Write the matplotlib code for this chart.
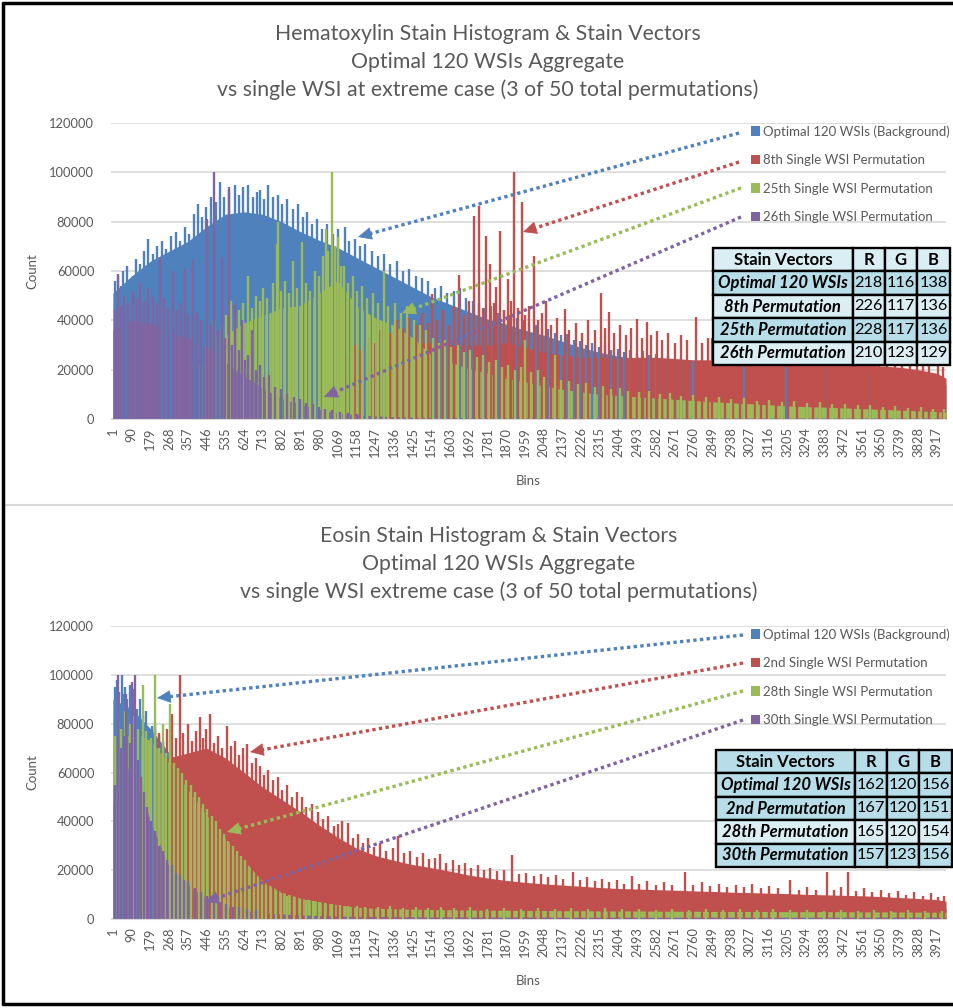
import numpy as np
import matplotlib.pyplot as plt
from matplotlib.patches import Patch

plt.rcParams['font.family'] = ['Lato', 'DejaVu Sans']

BLUE, RED, GREEN, PURPLE = '#4f81bd', '#c0504d', '#9bbb59', '#8064a2'
GREY = '#595959'

# x categories (bin numbers), labelled every 89 bins
tick_bins = list(range(1, 3918, 89))
bins = tick_bins + [3960]

# ---- Hematoxylin histogram: dense body level read at each labelled bin
h_blue = [51000, 58000, 64000, 68000, 72000, 78000, 83000, 84000, 83000, 80000,
          76000, 72500, 69500, 65500, 61500, 57500, 53500, 49500, 46500, 43500,
          40500, 38500, 36000, 34000, 31500, 29000, 27000, 25500, 24500, 23500,
          22300, 21000, 20500, 20000, 19500, 19000, 18500, 18000, 17500, 17000,
          16500, 16000, 15500, 15000, 14500, 14000]
h_red = [0, 0, 0, 0, 0, 0, 0, 0, 0, 0,
         2000, 8000, 15000, 21000, 27000, 30000, 31000, 31000, 30000, 30000,
         30000, 31000, 29000, 27000, 26000, 25000, 25000, 24500, 25000, 25000,
         24500, 24000, 24000, 23500, 23500, 23000, 23000, 22500, 22500, 22000,
         22000, 21500, 21000, 20000, 18500, 16500]
h_green = [0, 0, 0, 2000, 9000, 23000, 34000, 39000, 42000, 45000,
           46000, 51000, 56000, 46000, 41000, 38000, 33000, 26000, 23000, 20500,
           18500, 16500, 15000, 13500, 12000, 11000, 10000, 9500, 9000, 8500,
           8000, 7500, 7000, 6600, 6200, 5800, 5300, 5000, 4800, 4500,
           4200, 3900, 3600, 3300, 3000, 2700]
h_purple = [36000, 40000, 39000, 35000, 33000, 29000, 23000, 17500, 12500, 8300,
            6000, 3800, 2400, 1700, 1250, 950, 780, 680, 620, 570,
            520, 500, 470, 450, 430, 420, 410, 400, 400, 400,
            400, 400, 400, 400, 400, 400, 400, 400, 400, 400,
            400, 400, 400, 400, 400, 400]

# single-bin spikes above the body (bin, count)
h_blue_spikes = [
    (10, 56000), (25, 58000), (40, 54000), (49, 60000), (70, 62000), (95, 58000),
    (110, 65000), (130, 63000), (150, 68000), (168, 73000), (190, 67000), (210, 70000),
    (235, 72000), (255, 69000), (275, 74000), (300, 76000), (320, 72000), (345, 78000),
    (365, 75000), (386, 83000), (405, 87000), (425, 82000), (445, 86000), (465, 90000),
    (490, 88000), (510, 96000), (530, 90000), (555, 93000), (580, 95000), (600, 91000),
    (620, 94000), (642, 95000), (665, 90000), (685, 92000), (700, 93000), (720, 89000),
    (738, 95000), (760, 90000), (785, 91000), (805, 87000), (830, 89000), (855, 85000),
    (880, 87000), (905, 82000), (925, 84000), (947, 79000), (970, 81000), (995, 77000),
    (1020, 79000), (1045, 75000), (1070, 77000), (1104, 77700), (1125, 72000),
    (1152, 73000), (1175, 70000), (1200, 71000), (1232, 68000), (1260, 66000),
    (1290, 67000), (1320, 63000), (1350, 64000), (1380, 60000), (1410, 61000),
    (1440, 58000), (1470, 57000), (1500, 56000), (1530, 53000), (1560, 54000),
    (1590, 51000), (1620, 52000), (1650, 53000), (1680, 49000), (1710, 48000),
    (1740, 47000), (1770, 45000), (1800, 46000), (1830, 43000), (1860, 44000),
    (1890, 42000), (1920, 41000), (1950, 40000), (1980, 39000), (2010, 38000),
    (2040, 37000), (2070, 36500), (2100, 35000), (2130, 34000), (2160, 34500),
    (2190, 32000), (2220, 31500), (2250, 30000), (2280, 31000), (2310, 29000),
    (2340, 30000), (2370, 28000), (2400, 28500), (2430, 27000), (2460, 28000),
    (2490, 26500), (2520, 27500), (2550, 26000), (2580, 26500), (2610, 25000),
    (2640, 25500), (2670, 24000), (2700, 24500), (2730, 23000), (2760, 23500),
    (3000, 22000), (3200, 21000), (3400, 20500), (3600, 19500)]
h_red_spikes = [
    (1120, 26000), (1150, 30000), (1180, 28000), (1210, 33000), (1240, 31000),
    (1265, 36000), (1290, 38000), (1320, 35000), (1350, 40000), (1380, 37000),
    (1410, 41000), (1440, 38000), (1470, 43000), (1500, 39000), (1516, 50700),
    (1540, 40000), (1570, 44000), (1600, 38000), (1620, 46000), (1647, 58400),
    (1670, 42000), (1695, 48000), (1717, 82400), (1742, 86500), (1760, 45000),
    (1774, 74300), (1793, 62800), (1810, 47000), (1821, 53400), (1840, 76300),
    (1860, 44000), (1878, 56700), (1895, 48000), (1908, 100000), (1925, 45000),
    (1943, 87800), (1960, 42000), (1980, 46000), (2002, 66200), (2020, 40000),
    (2040, 43000), (2060, 48000), (2085, 38000), (2110, 41000), (2149, 44600),
    (2170, 36000), (2200, 39000), (2230, 35000), (2260, 40000), (2290, 36000),
    (2320, 51000), (2340, 37000), (2358, 43200), (2380, 35000), (2410, 38000),
    (2440, 34000), (2465, 37000), (2490, 40500), (2515, 33000), (2537, 39200),
    (2560, 34000), (2585, 35800), (2610, 32000), (2640, 35000), (2670, 31000),
    (2700, 34000), (2730, 32000), (2770, 41200), (2800, 31000), (2830, 33000),
    (2850, 33000), (2880, 30000), (2910, 32000), (2950, 36000), (2980, 30000),
    (3010, 31000), (3050, 32000), (3080, 29000), (3110, 31000), (3150, 35000),
    (3180, 29000), (3210, 30000), (3250, 28000), (3300, 34000), (3330, 28000),
    (3360, 29000), (3400, 27000), (3450, 31000), (3480, 27000), (3520, 28000),
    (3560, 26000), (3600, 33000), (3640, 26000), (3680, 27000), (3720, 25000),
    (3750, 30000), (3790, 24000), (3820, 25000), (3850, 28000), (3880, 22000),
    (3920, 26000), (3945, 21000)]
h_green_spikes = [
    (420, 22000), (450, 30000), (480, 40000), (500, 34000), (520, 38000), (540, 42000),
    (560, 48000), (580, 41000), (600, 44000), (620, 47000), (643, 58000), (660, 45000),
    (680, 50000), (700, 48000), (714, 53000), (735, 49000), (760, 55000), (780, 71000),
    (785, 80000), (800, 52000), (820, 56000), (840, 51000), (857, 64000), (875, 53000),
    (900, 71600), (920, 55000), (940, 52000), (960, 60000), (980, 58000), (1000, 66000),
    (1013, 77000), (1025, 68000), (1043, 100000), (1055, 70000), (1070, 73600),
    (1085, 62000), (1100, 62000), (1120, 55000), (1140, 58000), (1160, 52000),
    (1185, 54000), (1210, 49000), (1235, 51000), (1260, 47000), (1290, 60000),
    (1310, 46000), (1340, 47000), (1370, 43000), (1400, 46000), (1430, 40000),
    (1460, 38000), (1490, 36000), (1520, 33000), (1550, 31000), (1580, 32000),
    (1610, 29000), (1640, 30000), (1670, 27000), (1700, 28000), (1730, 25000),
    (1760, 26000), (1790, 23000), (1820, 24000), (1850, 21000), (1880, 22000),
    (1910, 20000), (1940, 21000), (1960, 32000), (1990, 19000), (2020, 20000),
    (2050, 17000), (2100, 26000), (2130, 16000), (2170, 15500), (2210, 14000),
    (2250, 14500), (2290, 13000), (2330, 13500), (2370, 12000), (2410, 12500),
    (2450, 11500), (2500, 11000), (2550, 11500), (2600, 10000), (2650, 10500),
    (2700, 9500), (2760, 9800), (2820, 8800), (2880, 9000), (2940, 8200),
    (3000, 8500), (3060, 7500), (3120, 7800), (3180, 7000), (3240, 7200),
    (3300, 6500), (3360, 6800), (3420, 6000), (3480, 6200), (3540, 5600),
    (3600, 5800), (3660, 5000), (3720, 5300), (3780, 4600), (3840, 4800),
    (3900, 4200), (3950, 4000)]
h_purple_spikes = [
    (10, 44000), (25, 58800), (40, 46000), (55, 50000), (75, 47000), (95, 52000),
    (115, 49000), (130, 55000), (150, 48000), (170, 53000), (190, 50000), (210, 47000),
    (225, 65500), (245, 49000), (265, 45000), (287, 60000), (305, 44000), (325, 47000),
    (343, 61000), (360, 42000), (382, 65000), (400, 43000), (420, 40000), (449, 81000),
    (465, 38000), (481, 100000), (500, 36000), (519, 65500), (535, 33000), (553, 94000),
    (565, 30000), (581, 46600), (600, 28000), (614, 40000), (630, 24000), (645, 26000),
    (662, 36000), (680, 20000), (700, 22000), (720, 17000), (745, 18000), (770, 13000),
    (800, 12000), (830, 10000), (860, 9000), (890, 8000), (920, 6500), (950, 6000),
    (980, 5000), (1010, 4200), (1040, 3500), (1080, 3000), (1120, 2400), (1160, 2200)]

# ---- Eosin histogram
e_blue = [90000, 86000, 78000, 68000, 61000, 54000, 47500, 41500, 35500, 30500,
          26500, 23000, 20000, 18000, 16000, 14500, 13200, 12200, 11200, 10200,
          9500, 9000, 8500, 8000, 7600, 7200, 7000, 6800, 6600, 6400,
          6200, 6000, 5800, 5600, 5500, 5400, 5300, 5200, 5100, 5000,
          4900, 4800, 4700, 4600, 4500, 4400]
e_red = [54000, 60000, 64000, 66000, 68000, 70000, 66000, 60000, 54000, 49000,
         44000, 38500, 33500, 29000, 26000, 24000, 22300, 21000, 19600, 18000,
         16800, 15800, 15000, 14400, 13900, 13400, 12900, 12500, 12300, 12000,
         11800, 11500, 11300, 11000, 10800, 10600, 10400, 10100, 9900, 9700,
         9500, 9200, 8800, 8400, 7900, 7300]
e_green = [68000, 77000, 73000, 64000, 53000, 42500, 33000, 24000, 15500, 11000,
           8600, 7200, 5800, 4800, 4400, 4200, 4000, 3900, 3800, 3700,
           3600, 3600, 3500, 3500, 3400, 3400, 3300, 3300, 3300, 3200,
           3200, 3200, 3100, 3100, 3100, 3100, 3000, 3000, 3000, 3000,
           2900, 2900, 2900, 2800, 2800, 2700]
e_purple = [48000, 65000, 40000, 21500, 14000, 8500, 5300, 3600, 2600, 2100,
            1700, 1400, 1200, 1050, 1000, 950, 900, 850, 850, 800,
            800, 800, 800, 800, 750, 750, 750, 750, 750, 750,
            750, 750, 750, 750, 750, 750, 750, 750, 750, 750,
            750, 750, 750, 750, 750, 750]

e_blue_spikes = [
    (10, 95000), (20, 98000), (30, 93000), (43, 100000), (50, 92000), (60, 95000),
    (70, 90000), (80, 96000), (90, 89000), (100, 94000), (115, 86000), (130, 90000),
    (145, 83000), (160, 85000), (186, 79000), (200, 78000), (220, 75000), (240, 73000)]
e_red_spikes = [
    (200, 80000), (220, 76000), (240, 72000), (260, 78000), (281, 84000), (300, 74000),
    (319, 100000), (335, 76000), (357, 80000), (375, 73000), (395, 77000), (414, 82600),
    (430, 74000), (445, 78000), (461, 84000), (480, 72000), (500, 75000), (520, 70000),
    (543, 79000), (560, 71000), (580, 73000), (600, 67000), (620, 70000), (638, 71700),
    (660, 64000), (680, 66000), (700, 62800), (720, 59000), (740, 61000), (760, 57000),
    (785, 58000), (805, 53000), (830, 55000), (850, 50000), (875, 52000), (900, 50000),
    (920, 46000), (945, 47000), (975, 44000), (1000, 41000), (1025, 42000),
    (1050, 38000), (1070, 39000), (1090, 40300), (1118, 39300), (1140, 33000),
    (1165, 35000), (1190, 31000), (1215, 33000), (1240, 29500), (1270, 31000),
    (1300, 28000), (1330, 29000), (1356, 34000), (1385, 27000), (1415, 28000),
    (1445, 25500), (1475, 27000), (1505, 24500), (1530, 25000), (1555, 26600),
    (1585, 23000), (1615, 24000), (1645, 22000), (1675, 23000), (1705, 21000),
    (1735, 22000), (1765, 20000), (1795, 21000), (1825, 19500), (1860, 20000),
    (1897, 26200), (1930, 18500), (1965, 19000), (2000, 17500), (2035, 18500),
    (2070, 17000), (2105, 18000), (2140, 16500), (2187, 19100), (2220, 16000),
    (2255, 17000), (2290, 15500), (2325, 16500), (2360, 15000), (2395, 16000),
    (2430, 14500), (2468, 17800), (2500, 14500), (2540, 15500), (2580, 14000),
    (2620, 15000), (2660, 14000), (2720, 19300), (2760, 14000), (2800, 15000),
    (2840, 13500), (2880, 14500), (2920, 13000), (2960, 14000), (3000, 13000),
    (3040, 14500), (3080, 12500), (3120, 13500), (3160, 12500), (3218, 16000),
    (3260, 12000), (3300, 13000), (3340, 12000), (3395, 19300), (3430, 12000),
    (3460, 13000), (3495, 19300), (3530, 11500), (3570, 12500), (3610, 11000),
    (3650, 12000), (3690, 10500), (3730, 11500), (3770, 10000), (3810, 11000),
    (3850, 9500), (3890, 10500), (3920, 9000), (3950, 9500)]
e_green_spikes = [
    (10, 75000), (25, 82000), (40, 78000), (60, 85000), (80, 80000), (100, 83000),
    (120, 78000), (143, 96000), (160, 77000), (180, 74000), (200, 100000), (220, 70000),
    (240, 80000), (255, 68000), (272, 88000), (290, 64000), (310, 62000), (330, 60000),
    (350, 57000), (370, 55000), (390, 52000), (410, 50000), (430, 47000), (450, 45000),
    (470, 42000), (490, 40000), (510, 37000), (530, 35000), (550, 32000), (570, 30000),
    (590, 28000), (610, 26000), (630, 24000), (650, 21000), (670, 19000), (690, 17000),
    (710, 15000), (730, 14000), (750, 12500), (775, 11500), (800, 10500), (830, 9500),
    (860, 9000), (890, 8200), (920, 7800), (950, 7200), (980, 6800), (1010, 6300),
    (1040, 6000), (1080, 5600), (1120, 5400), (1160, 5200), (1200, 5000), (1260, 4800),
    (1320, 5200), (1380, 4600), (1440, 5000), (1500, 4500), (1560, 4900), (1620, 4400),
    (1700, 4800), (1780, 4300), (1860, 4700), (1940, 4200), (2020, 4600), (2100, 4100),
    (2180, 4500), (2260, 4000), (2340, 4400), (2420, 3900), (2500, 4300), (2580, 3800),
    (2660, 4200), (2740, 3700), (2820, 4100), (2900, 3600), (2980, 4000), (3060, 3600),
    (3140, 3900), (3220, 3500), (3300, 3800), (3380, 3400), (3460, 3700), (3540, 3300),
    (3620, 3600), (3700, 3300), (3780, 3500), (3860, 3200), (3940, 3400)]
e_purple_spikes = [
    (10, 55000), (25, 100000), (40, 70000), (55, 75000), (65, 92000), (80, 72000),
    (92, 97000), (105, 100000), (120, 65000), (135, 58000), (150, 52000), (165, 46000),
    (180, 40000), (200, 36000), (220, 30000), (240, 28000), (260, 24000), (280, 22000),
    (300, 19000), (320, 18000), (340, 16000), (360, 15000), (390, 12500), (420, 11000),
    (450, 9500), (480, 8000), (510, 7000), (540, 6000), (570, 5000), (600, 4800),
    (640, 4000), (680, 3500)]

# ---- stain vector tables
table_cols = ['Stain Vectors', 'R', 'G', 'B']
h_rows = ['Optimal 120 WSIs', '8th Permutation', '25th Permutation', '26th Permutation']
h_rgb = [[218, 116, 138], [226, 117, 136], [228, 117, 136], [210, 123, 129]]
e_rows = ['Optimal 120 WSIs', '2nd Permutation', '28th Permutation', '30th Permutation']
e_rgb = [[162, 120, 156], [167, 120, 151], [165, 120, 154], [157, 123, 156]]

h_labels = ['Optimal 120 WSIs (Background)', '8th Single WSI Permutation',
            '25th Single WSI Permutation', '26th Single WSI Permutation']
e_labels = ['Optimal 120 WSIs (Background)', '2nd Single WSI Permutation',
            '28th Single WSI Permutation', '30th Single WSI Permutation']

colors = [BLUE, RED, GREEN, PURPLE]

fig = plt.figure(figsize=(9.54, 10.08), dpi=100)
W, H = 954, 1008
ax_h = fig.add_axes([111 / W, 1 - 419 / H, 835 / W, 296 / H])
ax_e = fig.add_axes([111 / W, 1 - 919 / H, 835 / W, 293 / H])


def draw_hist(ax, series, spikes):
    for vals, spk, c in zip(series, spikes, colors):
        ax.fill_between(bins, vals, color=c, lw=0)
        sb = [s[0] for s in spk]
        sv = [s[1] for s in spk]
        ax.vlines(sb, 0, sv, color=c, lw=1.7)
    ax.set_xlim(-8, 3960)
    ax.set_ylim(0, 120000)
    ax.set_yticks(range(0, 120001, 20000))
    ax.set_xticks(tick_bins)
    ax.set_xticklabels([str(b) for b in tick_bins], rotation=90)
    ax.tick_params(length=0, labelsize=9.3, labelcolor=GREY)
    ax.tick_params(axis='y', pad=12)
    ax.tick_params(axis='x', pad=6)
    ax.yaxis.grid(True, color='#d9d9d9', lw=1.2)
    ax.set_axisbelow(True)
    for s in ['top', 'left', 'right']:
        ax.spines[s].set_visible(False)
    ax.spines['bottom'].set_color('#d9d9d9')
    ax.set_ylabel('Count', fontsize=9.5, color=GREY)
    ax.set_xlabel('Bins', fontsize=9.5, color=GREY)
    ax.yaxis.set_label_coords(-0.087, 0.5)
    ax.xaxis.set_label_coords(0.5, -0.19)


draw_hist(ax_h, [h_blue, h_red, h_green, h_purple],
          [h_blue_spikes, h_red_spikes, h_green_spikes, h_purple_spikes])
draw_hist(ax_e, [e_blue, e_red, e_green, e_purple],
          [e_blue_spikes, e_red_spikes, e_green_spikes, e_purple_spikes])

# overlay in pixel coordinates for titles, arrows, tables and frame
ov = fig.add_axes([0, 0, 1, 1], zorder=5)
ov.set_xlim(0, W)
ov.set_ylim(H, 0)
ov.axis('off')

ov.text(488, 62, 'Hematoxylin Stain Histogram & Stain Vectors\nOptimal 120 WSIs Aggregate\n'
        'vs single WSI at extreme case (3 of 50 total permutations)',
        ha='center', va='center', fontsize=15.3, color=GREY, linespacing=1.5)
ov.text(499, 564, 'Eosin Stain Histogram & Stain Vectors\nOptimal 120 WSIs Aggregate\n'
        'vs single WSI extreme case (3 of 50 total permutations)',
        ha='center', va='center', fontsize=15.3, color=GREY, linespacing=1.5)

handles = [Patch(facecolor=c) for c in colors]
for lab, y0 in [(h_labels, 125), (e_labels, 628)]:
    fig.legend(handles, lab, loc='upper left', bbox_to_anchor=(751 / W, 1 - y0 / H),
               frameon=False, fontsize=9.5, labelcolor=GREY, borderpad=0,
               borderaxespad=0, handlelength=0.7, handleheight=0.7,
               handletextpad=0.2, labelspacing=1.25)

# dotted pointer arrows: (legend end) -> (arrow tip)
h_arrows = [((739, 133), (358, 237)), ((739, 162), (523, 232)),
            ((741, 188), (402, 313)), ((741, 217), (324, 397))]
e_arrows = [((743, 635), (157, 698)), ((743, 663), (250, 752)),
            ((743, 691), (227, 832)), ((743, 720), (205, 902))]
for arrows in [h_arrows, e_arrows]:
    for (p0, p1), c in zip(arrows, colors):
        d = np.array(p0, float) - np.array(p1, float)
        u = d / np.hypot(*d)
        base = np.array(p1) + 11 * u
        ov.plot([p0[0], base[0]], [p0[1], base[1]], color=c, lw=2.4,
                linestyle=(0, (1, 1)), solid_capstyle='butt')
        ov.annotate('', xy=p1, xytext=base + 2 * u,
                    arrowprops=dict(arrowstyle='-|>,head_length=0.9,head_width=0.42',
                                    color=c, lw=0.5, mutation_scale=10,
                                    shrinkA=0, shrinkB=0))


def draw_table(rows, rgb, box, fills):
    x0, y0, w, h = box
    cells = [[r] + [str(v) for v in vals] for r, vals in zip(rows, rgb)]
    tb = ov.table(cellText=cells, colLabels=table_cols, cellLoc='center',
                  bbox=[x0 / W, 1 - (y0 + h) / H, w / W, h / H],
                  colWidths=[0.59, 0.135, 0.135, 0.14])
    tb.auto_set_font_size(False)
    for (r, c), cell in tb.get_celld().items():
        cell.set_edgecolor('black')
        cell.set_linewidth(1.7)
        cell.set_facecolor(fills[r])
        txt = cell.get_text()
        txt.set_color('black')
        if r == 0:
            txt.set_fontsize(12)
            txt.set_fontweight('bold')
        elif c == 0:
            txt.set_fontsize(12)
            txt.set_fontweight('bold')
            txt.set_fontstyle('italic')
        else:
            txt.set_fontsize(11.8)


draw_table(h_rows, h_rgb, (713, 248, 237, 117),
           ['#dbeef3', '#b7dde8', '#dbeef3', '#b7dde8', '#dbeef3'])
draw_table(e_rows, e_rgb, (716, 750, 236, 117),
           ['#b7dde8', '#b7dde8', '#b7dde8', '#dbeef3', '#b7dde8'])

# separator between the two charts and outer frame (left, top, bottom)
ov.plot([4, W], [505, 505], color='#d9d9d9', lw=1.5)
ov.plot([3, 3], [2, 1005], color='black', lw=2.5, solid_capstyle='butt')
ov.plot([2, W], [3, 3], color='black', lw=2.5, solid_capstyle='butt')
ov.plot([2, W], [1004, 1004], color='black', lw=2.5, solid_capstyle='butt')

fig.savefig('out.png', dpi=100)
